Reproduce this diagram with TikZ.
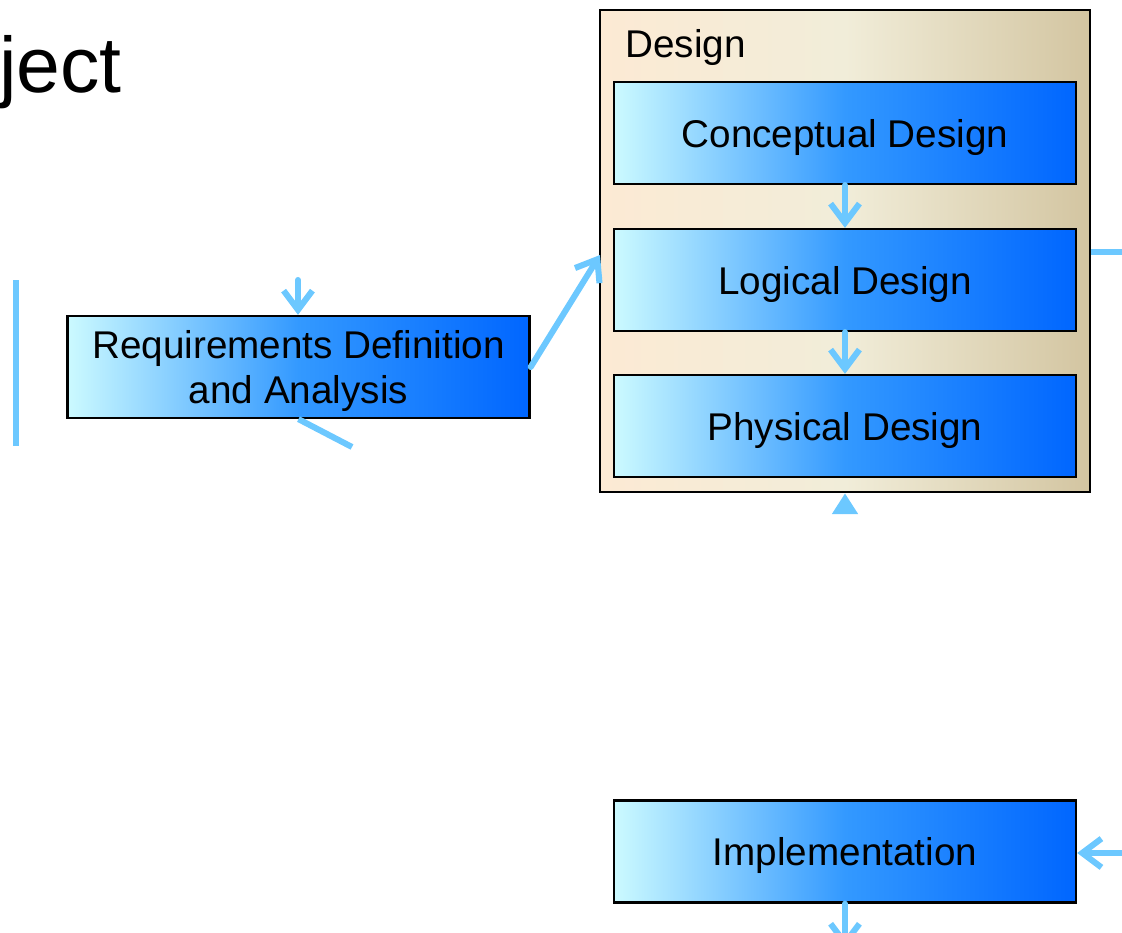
\documentclass[tikz,border=0pt]{standalone}
\usepackage{fontspec}
\setmainfont{Liberation Sans}
\usetikzlibrary{arrows.meta}

\definecolor{stageleft}{HTML}{CCFAFF}
\definecolor{stagemid}{HTML}{3399FF}
\definecolor{stageright}{HTML}{0066FF}
\definecolor{groupleft}{HTML}{FCEAD4}
\definecolor{groupmid}{HTML}{F1EDD9}
\definecolor{groupright}{HTML}{D3C5A1}
\definecolor{flowblue}{HTML}{6CC8FF}

\newcommand\stagefont{\fontsize{27.5}{32}\selectfont}
\newcommand\titlefont{\fontsize{56}{60}\selectfont}

\tikzset{
  stage/.style={draw=black, line width=1.6pt, left color=stageleft,
    right color=stageright, middle color=stagemid, minimum width=11.55cm,
    minimum height=2.55cm, inner sep=0pt, text depth=0pt, align=center,
    font=\stagefont},
  group/.style={draw=black, line width=1.7pt, left color=groupleft,
    right color=groupright, middle color=groupmid, minimum width=12.25cm,
    minimum height=12.05cm, inner sep=0pt},
  flowline/.style={draw=flowblue, line width=4.3pt},
  flow/.style={flowline, line cap=round,
    -{Straight Barb[length=0.48cm, width=0.72cm]}},
  flowhead/.style={flowline, -{Triangle[length=0.52cm, width=0.62cm]}}
}

\begin{document}
\begin{tikzpicture}[x=0.025cm, y=-0.025cm]
\useasboundingbox (0,0) rectangle (1122,932);
\clip (0,0) rectangle (1122,932);

\node (ject) [anchor=base east, inner sep=0pt, font=\titlefont] at (122,93) {ject};

% design group with its three steps
\node (design) [group] at (845,251) {};
\node (designlabel) [anchor=base west, inner sep=0pt, font=\stagefont] at (625,58) {Design};
\node (concept) [stage] at (845,133) {Conceptual Design};
\node (logical) [stage] at (845,280) {Logical Design};
\node (physical) [stage] at (845,426) {Physical Design};

\node (req) [stage] at (298.5,367) {Requirements Definition\\and Analysis};
\node (impl) [stage] at (845,851.5) {Implementation};

\coordinate (reqin) at (298,280);
\coordinate (reqout) at (352,447);
\coordinate (sidetop) at (16,280);
\coordinate (sidebot) at (16,446);
\coordinate (designin) at (600,255);
\coordinate (designout) at (1126,252);
\coordinate (designfoot) at (845,514);
\coordinate (implin) at (1130,853);
\coordinate (implout) at (845,948);

\draw[flow] (concept) -- (logical);
\draw[flow] (logical) -- (physical);
\draw[flow] (reqin) -- (reqin |- req.north);
\draw[flow] (req.east) -- (designin);
\draw[flowline] (req.south) -- (reqout);
\draw[flowline] (sidetop) -- (sidebot);
\draw[flowline] (design.east |- designout) -- (designout);
\draw[flowhead] (designfoot) -- (design.south);
\draw[flow] (implin) -- (impl.east |- implin);
\draw[flow] (impl.south) -- (implout);
\end{tikzpicture}
\end{document}
